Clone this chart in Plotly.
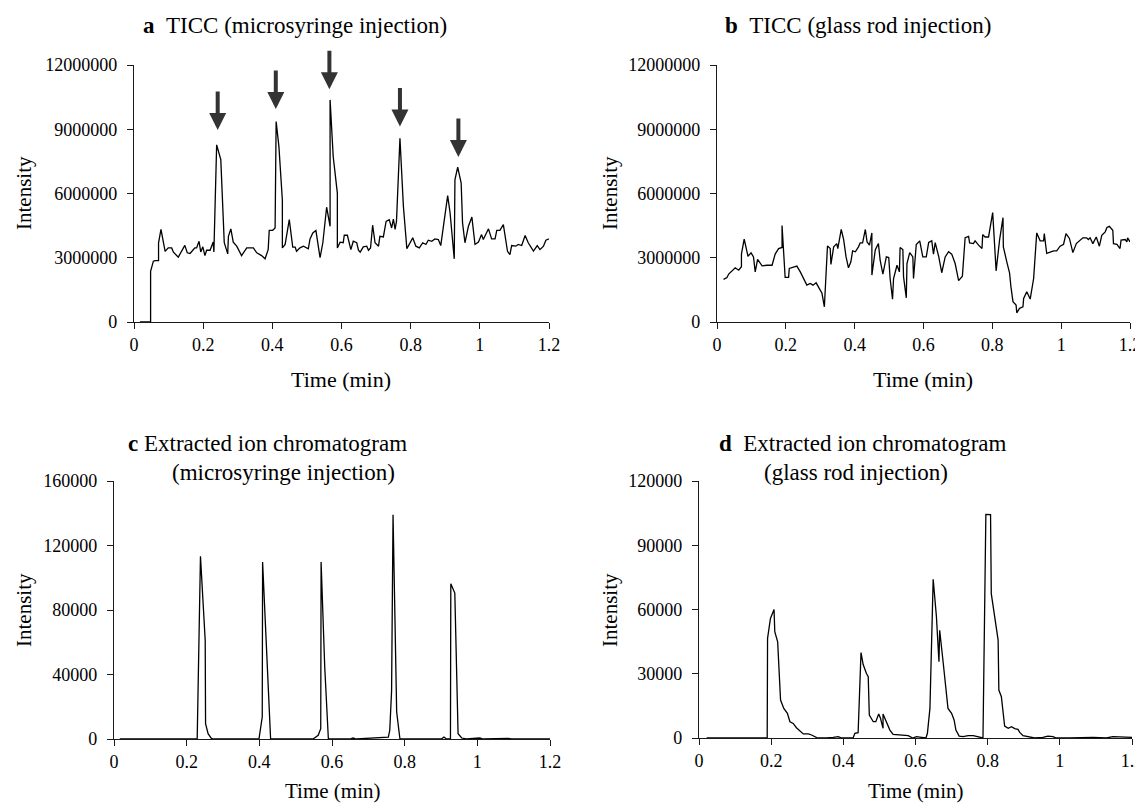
import plotly.graph_objects as go

W, H = 1143, 806
OFF = 8  # the page body adds an 8 px offset; positions below are reference pixels

# ---------------- data ----------------
a_time = [0.017, 0.048, 0.048, 0.056, 0.061, 0.071, 0.071, 0.078, 0.090, 0.099,
          0.109, 0.114, 0.128, 0.138, 0.147, 0.154, 0.162, 0.170, 0.176, 0.181,
          0.188, 0.193, 0.199, 0.205, 0.210, 0.220, 0.229, 0.231, 0.239, 0.251,
          0.261, 0.271, 0.273, 0.280, 0.287, 0.297, 0.311, 0.326, 0.345, 0.355,
          0.369, 0.379, 0.388, 0.391, 0.401, 0.408, 0.411, 0.419, 0.429, 0.429,
          0.437, 0.449, 0.459, 0.466, 0.470, 0.480, 0.490, 0.504, 0.509, 0.517,
          0.526, 0.538, 0.546, 0.557, 0.567, 0.567, 0.576, 0.588, 0.588, 0.596,
          0.605, 0.608, 0.617, 0.627, 0.634, 0.644, 0.649, 0.654, 0.663, 0.673,
          0.678, 0.684, 0.690, 0.697, 0.707, 0.711, 0.721, 0.729, 0.738, 0.745,
          0.750, 0.755, 0.759, 0.769, 0.779, 0.789, 0.798, 0.806, 0.815, 0.825,
          0.835, 0.844, 0.851, 0.861, 0.870, 0.880, 0.887, 0.899, 0.907, 0.914,
          0.926, 0.928, 0.936, 0.946, 0.950, 0.957, 0.967, 0.977, 0.986, 0.996,
          1.005, 1.010, 1.025, 1.034, 1.044, 1.049, 1.058, 1.068, 1.080, 1.087,
          1.092, 1.104, 1.111, 1.121, 1.131, 1.140, 1.155, 1.166, 1.174, 1.184,
          1.191, 1.200]
a_intensity = [0, 0, 2370000, 2840000, 2870000, 2870000, 3700000, 4320000, 3300000, 3460000,
               3460000, 3260000, 3030000, 3300000, 3580000, 3230000, 3200000, 3350000, 3460000, 3460000,
               3770000, 3270000, 3510000, 3100000, 3350000, 3350000, 3740000, 3270000, 8270000, 7580000,
               3700000, 3180000, 4000000, 4350000, 3730000, 3540000, 3100000, 3460000, 3460000, 3230000,
               3100000, 2950000, 3380000, 4280000, 4280000, 4390000, 9360000, 8200000, 5700000, 3460000,
               3620000, 4780000, 3500000, 3500000, 3300000, 3460000, 3540000, 3420000, 3880000, 4160000,
               4270000, 3000000, 3700000, 5360000, 4470000, 10370000, 7730000, 6020000, 3460000, 3730000,
               3700000, 4050000, 4050000, 3380000, 3770000, 3700000, 3350000, 3260000, 3510000, 3540000,
               3350000, 3460000, 4520000, 3700000, 3540000, 4000000, 3970000, 4700000, 4780000, 4390000,
               4800000, 4320000, 4700000, 8580000, 5400000, 3420000, 3700000, 3930000, 3540000, 3460000,
               3700000, 3620000, 3820000, 3770000, 3880000, 3850000, 3570000, 4860000, 5900000, 5090000,
               2950000, 6640000, 7230000, 6490000, 4630000, 3700000, 4470000, 4900000, 3620000, 3730000,
               4080000, 3850000, 4350000, 3880000, 3880000, 4280000, 4280000, 4550000, 3300000, 3150000,
               3570000, 3540000, 3620000, 3570000, 4040000, 3700000, 3310000, 3570000, 3380000, 3540000,
               3820000, 3880000]

# arrows marking the injections in panel a (time, tip intensity)
arrow_time = [0.242, 0.410, 0.565, 0.769, 0.938]
arrow_tip = [8970000, 9940000, 10870000, 9130000, 7700000]

b_time = [0.019, 0.029, 0.034, 0.044, 0.053, 0.063, 0.071, 0.071, 0.079, 0.090,
          0.099, 0.106, 0.111, 0.118, 0.126, 0.131, 0.145, 0.160, 0.169, 0.179,
          0.189, 0.189, 0.198, 0.208, 0.210, 0.223, 0.232, 0.242, 0.252, 0.261,
          0.271, 0.279, 0.288, 0.295, 0.305, 0.312, 0.321, 0.329, 0.331, 0.339,
          0.348, 0.351, 0.361, 0.368, 0.375, 0.382, 0.389, 0.394, 0.402, 0.411,
          0.416, 0.423, 0.431, 0.436, 0.443, 0.450, 0.450, 0.460, 0.469, 0.474,
          0.482, 0.492, 0.499, 0.503, 0.510, 0.513, 0.523, 0.530, 0.532, 0.540,
          0.542, 0.550, 0.552, 0.560, 0.569, 0.571, 0.579, 0.589, 0.598, 0.608,
          0.615, 0.624, 0.629, 0.634, 0.644, 0.653, 0.663, 0.673, 0.682, 0.692,
          0.702, 0.713, 0.721, 0.731, 0.734, 0.745, 0.750, 0.760, 0.770, 0.772,
          0.779, 0.789, 0.792, 0.801, 0.811, 0.821, 0.831, 0.832, 0.842, 0.850,
          0.854, 0.860, 0.869, 0.871, 0.879, 0.889, 0.891, 0.900, 0.910, 0.920,
          0.929, 0.939, 0.949, 0.951, 0.958, 0.968, 0.978, 0.987, 0.997, 1.007,
          1.014, 1.024, 1.034, 1.044, 1.053, 1.063, 1.074, 1.079, 1.084, 1.092,
          1.102, 1.111, 1.118, 1.128, 1.133, 1.140, 1.150, 1.152, 1.162, 1.171,
          1.174, 1.186, 1.191, 1.193, 1.200]
b_intensity = [1990000, 2080000, 2240000, 2390000, 2530000, 2420000, 2580000, 3170000, 3870000, 3070000,
               3230000, 3040000, 2340000, 2920000, 2760000, 2620000, 2650000, 2650000, 3170000, 3430000,
               3480000, 4500000, 2080000, 2080000, 2500000, 2580000, 2610000, 2340000, 2030000, 1720000,
               1800000, 1720000, 1830000, 1650000, 1340000, 710000, 3550000, 3430000, 2690000, 3510000,
               3660000, 3430000, 4320000, 3850000, 3040000, 2530000, 2810000, 3320000, 3280000, 3510000,
               3690000, 3690000, 4320000, 3740000, 3590000, 4160000, 2190000, 3380000, 3660000, 2890000,
               2240000, 3040000, 3010000, 2030000, 1060000, 2030000, 2650000, 2340000, 3480000, 3380000,
               2110000, 1130000, 2730000, 3240000, 3040000, 2030000, 3620000, 3790000, 3040000, 3040000,
               3710000, 3790000, 3170000, 3710000, 3070000, 2300000, 3040000, 3280000, 3170000, 2730000,
               1930000, 2140000, 3940000, 4000000, 3690000, 3660000, 3790000, 3590000, 3430000, 4080000,
               3970000, 3970000, 4280000, 5110000, 2390000, 3820000, 4870000, 3510000, 2810000, 2300000,
               1650000, 950000, 790000, 430000, 640000, 710000, 1100000, 1410000, 1070000, 2030000,
               4160000, 3790000, 3790000, 4130000, 3200000, 3260000, 3320000, 3320000, 3540000, 3630000,
               4130000, 3900000, 3240000, 3660000, 3790000, 3930000, 3930000, 3850000, 3930000, 3660000,
               3970000, 3540000, 4050000, 4210000, 4410000, 4470000, 4280000, 3660000, 3630000, 3430000,
               3820000, 3850000, 3740000, 3930000, 3740000]

c_time = [0.016, 0.227, 0.229, 0.238, 0.251, 0.252, 0.259, 0.268, 0.273, 0.399,
          0.408, 0.409, 0.420, 0.431, 0.548, 0.562, 0.569, 0.570, 0.580, 0.590,
          0.649, 0.658, 0.667, 0.755, 0.759, 0.764, 0.768, 0.778, 0.787, 0.901,
          0.908, 0.915, 0.926, 0.927, 0.938, 0.947, 0.957, 0.970, 1.007, 1.016,
          1.085, 1.094, 1.200]
c_intensity = [0, 0, 0, 113300, 61200, 9500, 3300, 400, 0, 0,
               13600, 109800, 59000, 0, 0, 2300, 6400, 109800, 44600, 0,
               0, 600, 0, 1200, 5400, 30000, 139000, 16700, 0, 0,
               1200, 0, 0, 96300, 90500, 3300, 600, 0, 600, 0,
               400, 0, 0]

d_time = [0.021, 0.189, 0.190, 0.198, 0.208, 0.210, 0.218, 0.226, 0.235, 0.245,
          0.252, 0.261, 0.270, 0.280, 0.289, 0.303, 0.312, 0.326, 0.354, 0.372,
          0.386, 0.395, 0.427, 0.432, 0.441, 0.449, 0.455, 0.464, 0.469, 0.472,
          0.483, 0.490, 0.498, 0.503, 0.510, 0.510, 0.520, 0.529, 0.538, 0.552,
          0.566, 0.580, 0.592, 0.603, 0.617, 0.629, 0.633, 0.640, 0.649, 0.658,
          0.665, 0.667, 0.677, 0.684, 0.690, 0.700, 0.707, 0.712, 0.721, 0.732,
          0.746, 0.760, 0.778, 0.787, 0.795, 0.808, 0.810, 0.820, 0.829, 0.831,
          0.838, 0.847, 0.857, 0.866, 0.875, 0.884, 0.889, 0.898, 0.917, 0.930,
          0.953, 0.967, 0.981, 0.990, 1.027, 1.092, 1.129, 1.147, 1.200]
d_intensity = [0, 0, 46500, 55800, 60000, 49600, 44900, 17700, 13800, 11500,
               7600, 6800, 4800, 3400, 1900, 1900, 1400, 200, 0, 300,
               600, 0, 0, 2200, 2500, 39900, 34300, 30100, 28600, 10700,
               7600, 7600, 11200, 9200, 4500, 11200, 7600, 3700, 1700, 1400,
               1100, 1100, 0, 600, 300, 0, 2200, 13800, 74100, 56600,
               35600, 50300, 34800, 22400, 13800, 11500, 8400, 3700, 900, 600,
               1100, 1100, 600, 0, 104400, 104300, 67400, 55000, 45700, 22400,
               19300, 5600, 4500, 5300, 4400, 4000, 2600, 1100, 600, 0,
               300, 900, 600, 0, 0, 300, 0, 600, 300]

x_ticks = [0, 0.2, 0.4, 0.6, 0.8, 1.0, 1.2]
x_tick_labels = ["0", "0.2", "0.4", "0.6", "0.8", "1", "1.2"]

# ---------------- figure ----------------
FONT = "Liberation Serif, Times New Roman, serif"
LINE = dict(color="#000000", width=1.3)

def px_x(p):
    return (p - OFF) / W

def px_y(p):
    return 1 - (p - OFF) / H

fig = go.Figure()
series = [
    (a_time, a_intensity, "x", "y"),
    (b_time, b_intensity, "x2", "y2"),
    (c_time, c_intensity, "x3", "y3"),
    (d_time, d_intensity, "x4", "y4"),
]
for t, v, xa, ya in series:
    fig.add_trace(go.Scatter(x=t, y=v, mode="lines", line=LINE,
                             xaxis=xa, yaxis=ya, showlegend=False,
                             hoverinfo="skip"))

panels = {
    # name: (left, right, top, bottom) in pixels, y max, dtick
    "1": (134, 549, 65, 322, 12000000, 3000000),
    "2": (717, 1130, 65, 322, 12000000, 3000000),
    "3": (114, 550, 481, 739, 160000, 40000),
    "4": (699, 1132, 481, 738, 120000, 30000),
}

axis_common = dict(showline=True, linecolor="#1a1a1a", linewidth=1.3,
                   ticks="outside", ticklen=6, tickwidth=1.3, tickcolor="#1a1a1a",
                   showgrid=False, zeroline=False, automargin=False,
                   tickfont=dict(family=FONT, size=18, color="#000000"))

layout_axes = {}
for k, (l, r, t, b, ymax, dt) in panels.items():
    xname = "xaxis" if k == "1" else "xaxis" + k
    yname = "yaxis" if k == "1" else "yaxis" + k
    ysuffix = "" if k == "1" else k
    layout_axes[xname] = dict(axis_common, domain=[px_x(l), px_x(r)],
                              range=[0, 1.2], tickvals=x_ticks,
                              ticktext=x_tick_labels,
                              anchor="y" + ysuffix)
    layout_axes[yname] = dict(axis_common, domain=[px_y(b), px_y(t)],
                              range=[0, ymax], dtick=dt, tickformat="d",
                              ticklabelstandoff=6,
                              anchor="x" + ysuffix)

fig.update_layout(**layout_axes)

ann = []
def text(x, y, s, size, angle=0, xanchor="center"):
    ann.append(dict(x=px_x(x), y=px_y(y), xref="paper", yref="paper",
                    text=s, showarrow=False, textangle=angle,
                    xanchor=xanchor, yanchor="middle",
                    font=dict(family=FONT, size=size, color="#000000")))

NB = "\u00a0"
text(141, 25, "<b>a</b>" + NB + NB + "TICC (microsyringe injection)", 23, xanchor="left")
text(723, 25, "<b>b</b>" + NB + NB + "TICC (glass rod injection)", 23, xanchor="left")
text(126, 443, "<b>c</b>" + NB + "Extracted ion chromatogram", 23, xanchor="left")
text(170, 472, "(microsyringe injection)", 23, xanchor="left")
text(717, 443, "<b>d</b>" + NB + NB + "Extracted ion chromatogram", 23, xanchor="left")
text(762, 472, "(glass rod injection)", 23, xanchor="left")

text(341, 379, "Time (min)", 22)
text(923, 379, "Time (min)", 22)
text(332, 791, "Time (min)", 21)
text(915, 791, "Time (min)", 21)

text(24, 193, "Intensity", 21, angle=-90)
text(610, 193, "Intensity", 21, angle=-90)
text(24, 610, "Intensity", 21, angle=-90)
text(610, 610, "Intensity", 21, angle=-90)

for t, v in zip(arrow_time, arrow_tip):
    ann.append(dict(x=t, y=v, xref="x", yref="y", text="", showarrow=True,
                    arrowhead=2, arrowsize=0.85, arrowwidth=4,
                    arrowcolor="#333333", ax=0, ay=-40))

fig.update_layout(annotations=ann, width=W, height=H,
                  margin=dict(l=0, r=0, t=0, b=0, pad=0, autoexpand=False),
                  paper_bgcolor="white", plot_bgcolor="white",
                  font=dict(family=FONT))

fig.write_html("out.html")
